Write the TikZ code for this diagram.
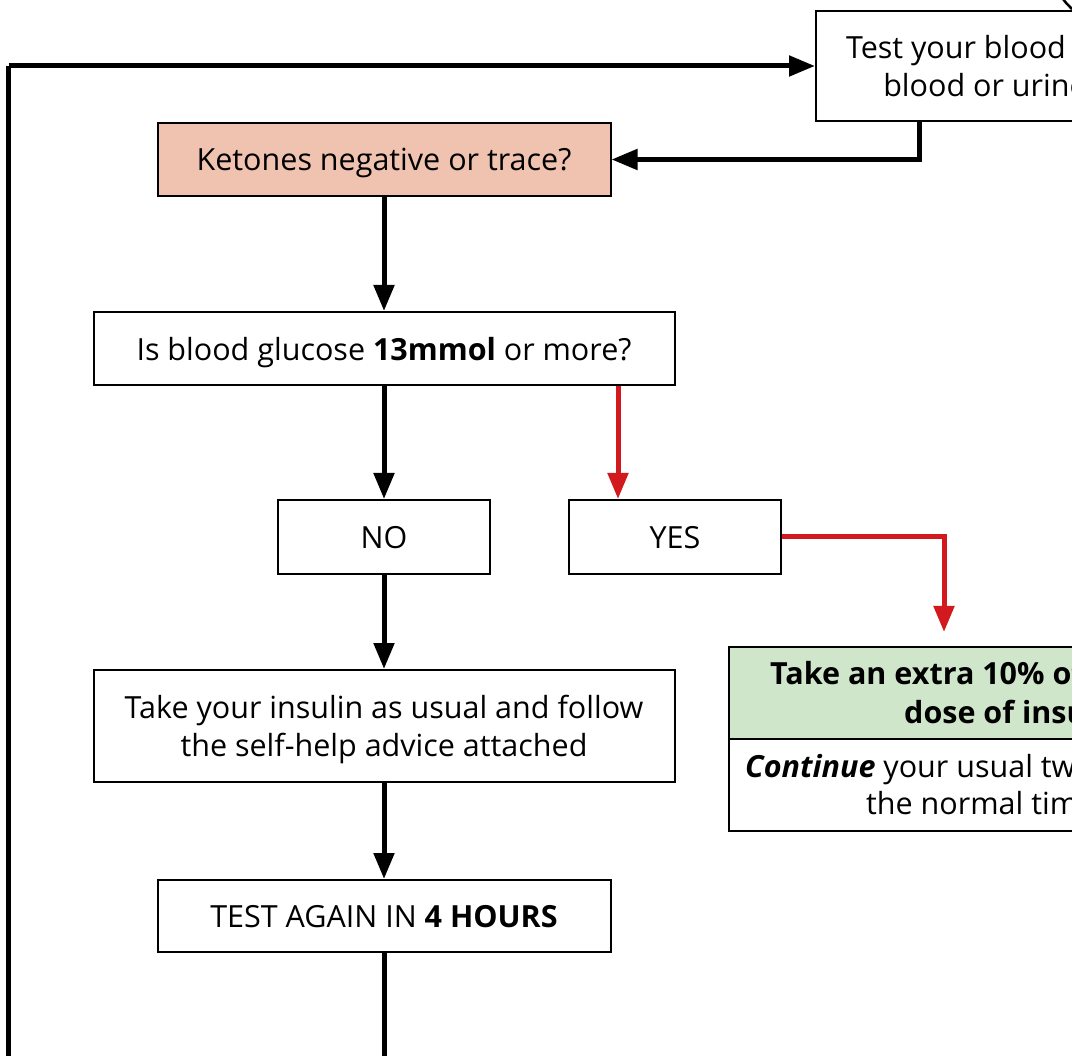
\documentclass[tikz,border=0pt]{standalone}
\usepackage{fontspec}
\setmainfont{Open Sans}
\usetikzlibrary{arrows.meta,positioning,calc}
\definecolor{Salmon}{HTML}{F0C2B0}
\definecolor{Mint}{HTML}{D0E6CB}
\definecolor{Alarm}{HTML}{D2191E}

\begin{document}
\begin{tikzpicture}[x=1pt,y=-1pt,
  flowbox/.style={draw=black,line width=2pt,inner sep=0pt,align=center,text depth=0pt,
    font=\fontsize{30.5}{38.5}\selectfont},
  flowtxt/.style={inner sep=0pt,anchor=base west,font=\fontsize{30.5}{38.5}\selectfont},
  flow/.style={line width=5pt,-{Triangle[length=26pt,width=20pt]}},
  loopline/.style={line width=5pt,line join=round}]
\useasboundingbox (0,0) rectangle (1072,1056);
\clip (0,0) rectangle (1072,1056);
% boxes
\node[flowbox,anchor=north west,minimum height=110pt,inner xsep=30pt] (test) at (815,10)
  {Test your blood glucose and\\blood or urine ketones};
\node[flowbox,fill=Salmon,minimum width=453pt,minimum height=73pt] (ketones) at (384,159.5)
  {Ketones negative or trace?};
\node[flowbox,minimum width=581pt,minimum height=73pt] (glucose) at (384,348.5)
  {Is blood glucose \textbf{13mmol} or more?};
\node[flowbox,minimum width=212pt,minimum height=74pt] (no) at (384,537) {NO};
\node[flowbox,minimum width=212pt,minimum height=74pt] (yes) at (675,537) {YES};
\node[flowbox,minimum width=581pt,minimum height=112pt] (insulin) at (384,726)
  {Take your insulin as usual and follow\\the self-help advice attached};
\node[flowbox,minimum width=453pt,minimum height=72pt] (again) at (384,916)
  {TEST AGAIN IN \textbf{4 HOURS}};
\node[flowbox,fill=Mint,anchor=north west,minimum width=600pt,minimum height=92pt] (extra) at (728,646) {};
\node[flowbox,anchor=north west,minimum width=600pt,minimum height=92pt] (cont) at (728,738) {};
\node[flowtxt] (extra1) at (770,684) {\textbf{Take an extra 10\% of your total daily}};
\node[flowtxt] (extra2) at (904,723) {\textbf{dose of insulin}};
\node[flowtxt] (cont1) at (745,777) {\textbf{\textit{Continue}} your usual two doses at};
\node[flowtxt] (cont2) at (866,814) {the normal times};
% connectors
\coordinate (redx) at (618,0);
\coordinate (testx) at (919,0);
\coordinate (greenx) at (944,0);
\coordinate (leftx) at (8.5,0);
\coordinate (loopy) at (0,1059);
\draw[flow] (test.south -| testx) |- (ketones.east);
\draw[flow] (ketones) -- (glucose);
\draw[flow] (glucose.south -| no) -- (no.north);
\draw[flow,Alarm] (glucose.south -| redx) -- (yes.north -| redx);
\draw[flow,Alarm,shorten >=14pt] (yes.east) -| (extra.north -| greenx);
\draw[flow] (no) -- (insulin);
\draw[flow] (insulin) -- (again);
\draw[loopline] (again.south) -- (again.south |- loopy) -| (leftx |- test.west);
\draw[flow] (leftx |- test.west) -- (test.west);
\draw[line width=2.5pt] (1063,-1) .. controls (1066,3) .. (1072,9);
\end{tikzpicture}
\end{document}
